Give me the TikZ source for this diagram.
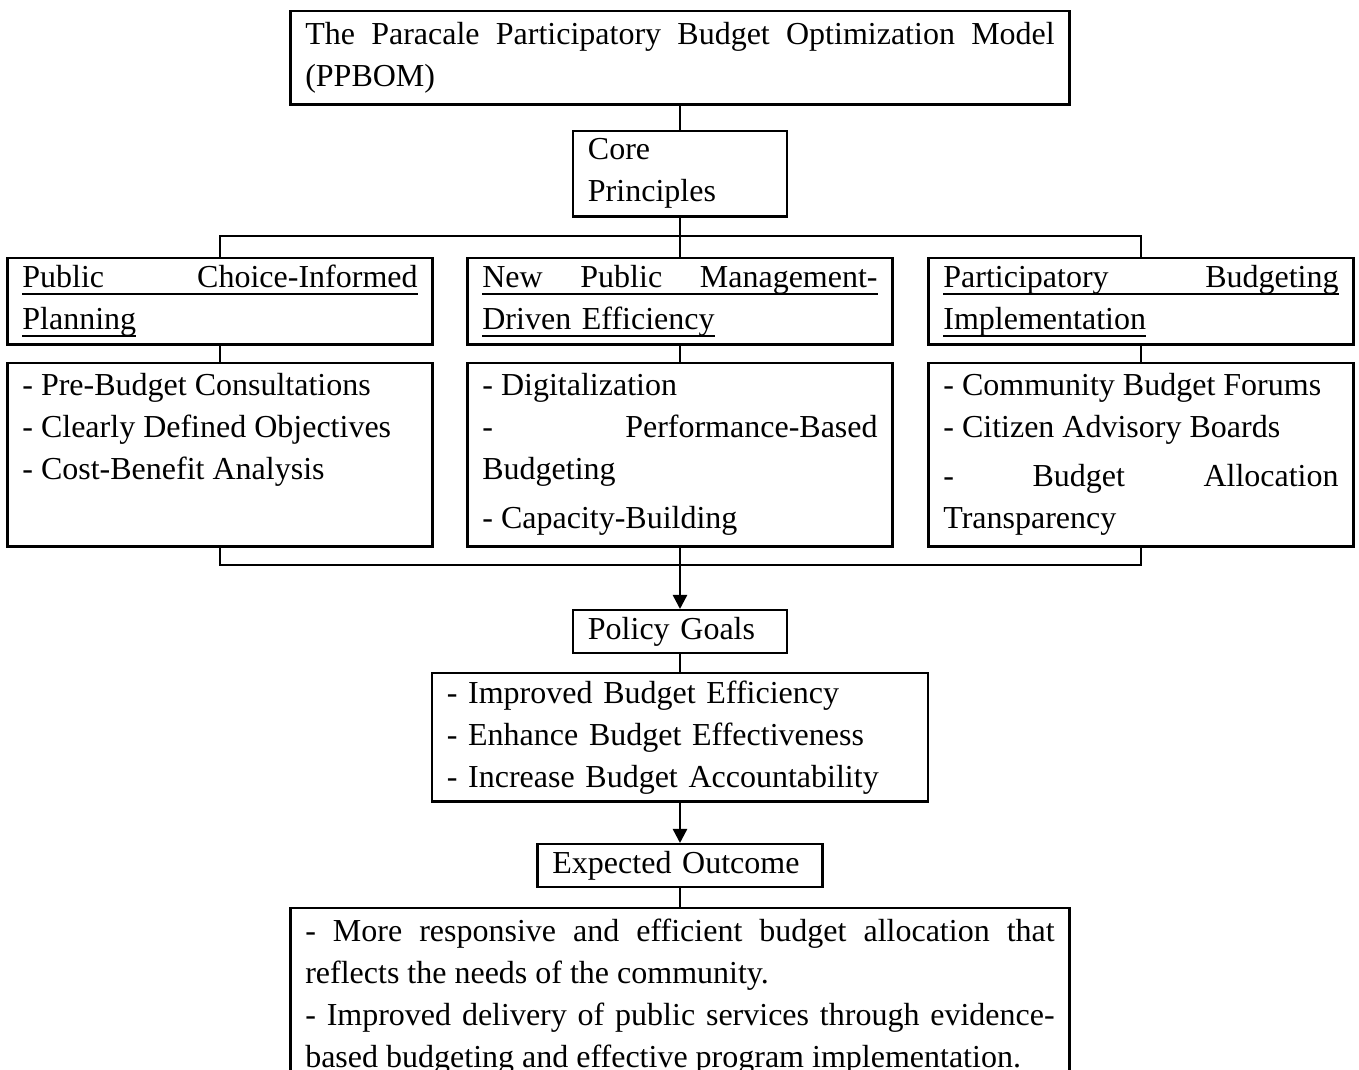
\documentclass[tikz,border=0pt]{standalone}
\usepackage{fontspec}
\setmainfont{Liberation Serif}
\usetikzlibrary{arrows.meta}

\newcommand{\ulword}[1]{\leavevmode\setbox0\hbox{#1}\rlap{\rule[-2.1pt]{\wd0}{0.6pt}}\box0}
\newcommand{\ulfull}[1]{\ulword{\hbox to\linewidth{#1}}}

\begin{document}
\begin{tikzpicture}[x=0.01cm, y=-0.01cm,
  box/.style={draw, line width=0.7pt, inner xsep=0.15cm, inner ysep=0pt, anchor=north, font=\fontsize{9.1pt}{11.95pt}\selectfont},
  jbox/.style={box, align=justify},
  lbox/.style={box, align=left},
  link/.style={line width=0.7pt},
  arr/.style={link, -{Triangle[width=0.14cm, length=0.14cm]}}]
\useasboundingbox[fill=white] (0,0) rectangle (1359,1070);
\node[jbox, text width=7.49cm, minimum height=0.93cm] (ppbom) at (680,10) {The Paracale Participatory Budget Optimization Model\linebreak (PPBOM)};
\node[lbox, text width=1.84cm, minimum height=0.85cm] (core) at (680,130) {Core\\Principles};
\node[lbox, text width=3.95cm, minimum height=0.86cm] (pcpHead) at (220,257) {\ulfull{Public\hfill Choice-Informed}\\\ulword{Planning}};
\node[lbox, text width=3.95cm, minimum height=0.86cm] (npmHead) at (680,257) {\ulfull{New\hfill Public\hfill Management-}\\\ulword{Driven Efficiency}};
\node[lbox, text width=3.95cm, minimum height=0.86cm] (pbiHead) at (1141,257) {\ulfull{Participatory\hfill Budgeting}\\\ulword{Implementation}};
\node[jbox, text width=3.95cm, minimum height=1.83cm] (pcpList) at (220,362) {- Pre-Budget Consultations\\ - Clearly Defined Objectives\\ - Cost-Benefit Analysis\rule[-0.56cm]{0pt}{0.56cm}};
\node[jbox, text width=3.95cm, minimum height=1.83cm] (npmList) at (680,362) {- Digitalization\\ - Performance-Based\linebreak Budgeting\\[2pt] - Capacity-Building};
\node[jbox, text width=3.95cm, minimum height=1.83cm] (pbiList) at (1141,362) {- Community Budget Forums\\ - Citizen Advisory Boards\\[2pt] - Budget Allocation\linebreak Transparency};
\node[lbox, text width=1.84cm, minimum height=0.43cm] (goals) at (680,609) {Policy Goals};
\node[lbox, text width=4.66cm, minimum height=1.28cm] (goalList) at (680,672) {- Improved Budget Efficiency\\ - Enhance Budget Effectiveness\\ - Increase Budget Accountability};
\node[lbox, text width=2.55cm, minimum height=0.43cm] (expected) at (680,843) {Expected Outcome};
\node[jbox, text width=7.49cm, minimum height=1.77cm] (outcome) at (680,907) {- More responsive and efficient budget allocation that\linebreak reflects the needs of the community.\\ - Improved delivery of public services through evidence-\linebreak based budgeting and effective program implementation.};
\coordinate (busTop) at (680,236);
\coordinate (busBot) at (680,565);
\draw[link] (ppbom) -- (core);
\draw[link] (core) -- (busTop);
\draw[link] (pcpHead.north) |- (busTop) -| (pbiHead.north);
\draw[link] (busTop) -- (npmHead);
\draw[link] (pcpHead) -- (pcpList);
\draw[link] (npmHead) -- (npmList);
\draw[link] (pbiHead) -- (pbiList);
\draw[link] (pcpList.south) |- (busBot) -| (pbiList.south);
\draw[link] (npmList) -- (busBot);
\draw[arr] (busBot) -- (goals);
\draw[link] (goals) -- (goalList);
\draw[arr] (goalList) -- (expected);
\draw[link] (expected) -- (outcome);
\end{tikzpicture}
\end{document}
